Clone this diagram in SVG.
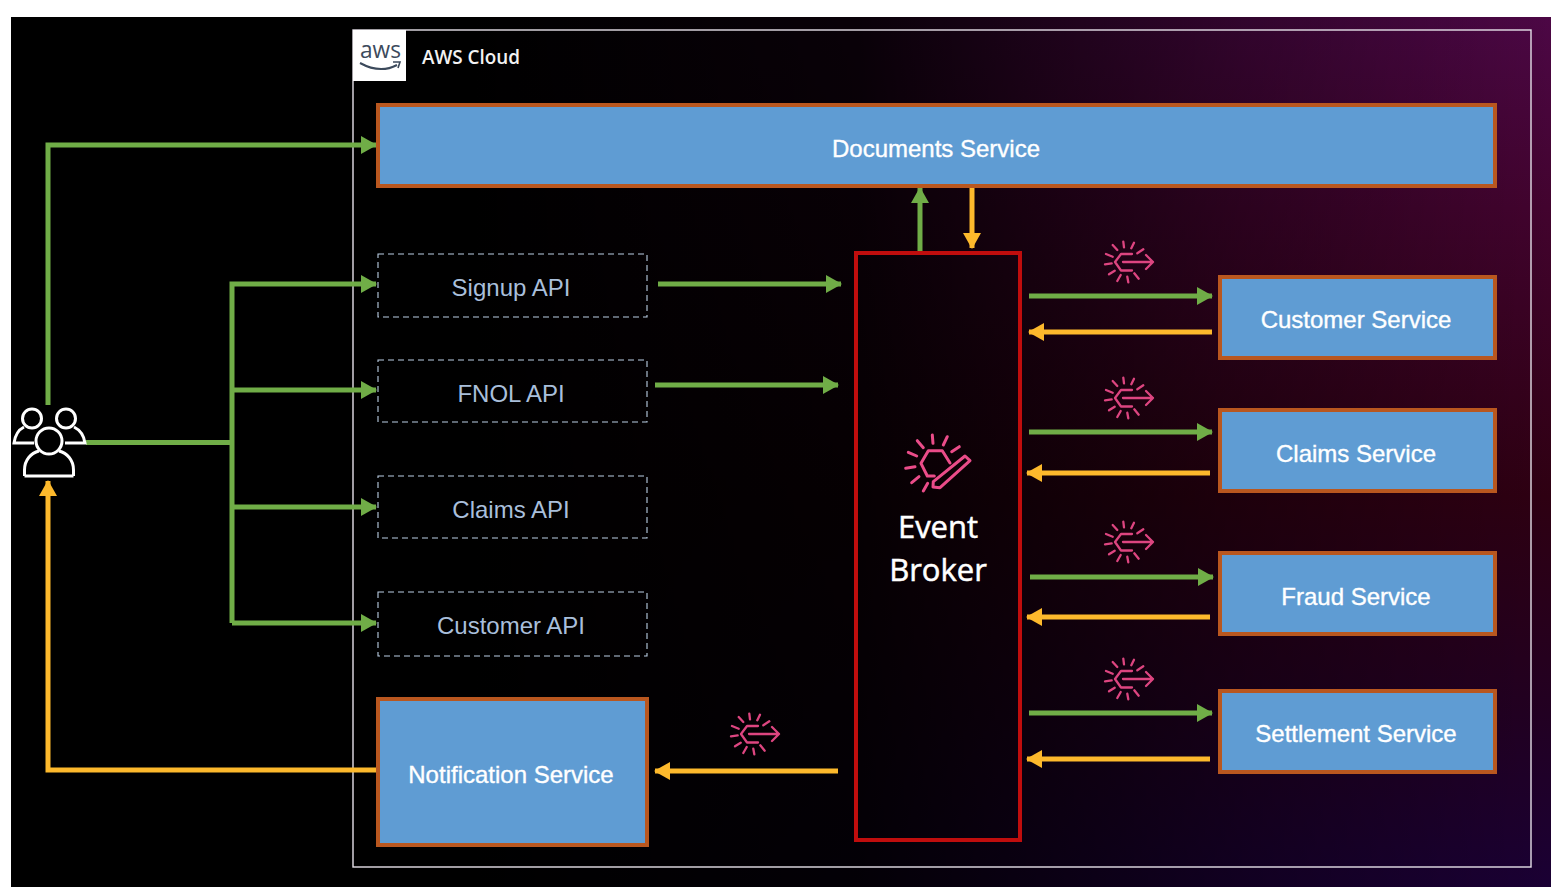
<svg xmlns="http://www.w3.org/2000/svg" xmlns:xlink="http://www.w3.org/1999/xlink" width="1556" height="894" viewBox="0 0 1556 894">
<style>
.sans{font-family:"Liberation Sans",Arial,sans-serif}
.svc{fill:#5f9cd3;stroke:#b9571f;stroke-width:4}
.api{fill:none;stroke:#bcd0e6;stroke-width:1.1;stroke-dasharray:6 4}
.lbl{font-family:"Liberation Sans",Arial,sans-serif;font-size:24px;fill:#fff;stroke:#fff;stroke-width:.35;text-anchor:middle}
.apil{font-family:"Liberation Sans",Arial,sans-serif;font-size:24px;fill:#a9bfdb;text-anchor:middle}
.g{fill:none;stroke:#70ad47;stroke-width:5}
.y{fill:none;stroke:#fdb92c;stroke-width:5}
.ic{fill:none;stroke:#dd4580;stroke-width:2.300;stroke-linecap:round;stroke-linejoin:round}
.br{font-family:"Open Sans","Noto Sans",sans-serif;font-size:31px;fill:#fff;stroke:#fff;stroke-width:.5;text-anchor:middle}
</style>
<defs>
<linearGradient id="v" x1="0" y1="0" x2="0" y2="1"><stop offset="0" stop-color="#4c0745"/><stop offset="0.22" stop-color="#42032e"/><stop offset="0.55" stop-color="#2e0012"/><stop offset="0.8" stop-color="#220022"/><stop offset="1" stop-color="#1a0034"/></linearGradient>
<linearGradient id="h" x1="0" y1="0" x2="1" y2="0"><stop offset="0.3" stop-color="#000"/><stop offset="0.55" stop-color="#000" stop-opacity="0.88"/><stop offset="0.8" stop-color="#000" stop-opacity="0.35"/><stop offset="1" stop-color="#000" stop-opacity="0"/></linearGradient>
<marker id="ag" markerUnits="userSpaceOnUse" markerWidth="16" markerHeight="18" refX="15" refY="9" orient="auto"><path d="M0 0L16 9L0 18Z" fill="#70ad47"/></marker>
<marker id="ay" markerUnits="userSpaceOnUse" markerWidth="16" markerHeight="18" refX="15" refY="9" orient="auto"><path d="M0 0L16 9L0 18Z" fill="#fdb92c"/></marker>
<g id="ev" class="ic">
<path d="M3 -8H-8L-14 0L-8 8.500H3"/>
<path d="M-6 0H24M17 -7L24 0L17 7"/>
<path d="M-5.700 -20.300L-5 -14.700M5 -19.300L2.300 -13.700M14.300 -12.700L8.300 -8.700M-16.300 -17L-11.700 -12M-23 -8L-16.300 -5.300M-24 2.300L-17.300 1.300M-20 12.300L-14.300 8.700M-11.700 19L-8.300 13M-.7 20.300L-1.700 14.700M9.700 16.700L5.300 11.300"/>
</g>
</defs>
<rect width="1556" height="894" fill="#fff"/>
<rect x="11" y="17" width="1540" height="870" fill="url(#v)"/>
<rect x="11" y="17" width="1540" height="870" fill="url(#h)"/>
<rect x="353" y="30" width="1178" height="837" fill="none" stroke="#e6e0e8" stroke-width="1.4"/>
<g id="aws-logo">
<rect x="353" y="30" width="53" height="51" fill="#fff"/>
<text x="360" y="58" font-family="'Open Sans',sans-serif" font-size="24" fill="#3c4a5c" textLength="41" lengthAdjust="spacingAndGlyphs">aws</text>
<path d="M360 63Q380 74 397 65" fill="none" stroke="#3c4a5c" stroke-width="2"/>
<path d="M393 62L400 62L398 68" fill="none" stroke="#3c4a5c" stroke-width="1.600"/>
</g>
<text id="cloud-label" x="422" y="64" font-family="'Open Sans',sans-serif" font-size="20" font-weight="600" fill="#f2f2f2" textLength="98" lengthAdjust="spacingAndGlyphs">AWS Cloud</text>

<g id="connectors">
<path class="g" d="M48 405V145H376" marker-end="url(#ag)"/>
<path class="g" d="M86 442.500H232"/>
<path class="g" d="M232 623V284H376" marker-end="url(#ag)"/>
<path class="g" d="M232 390H376" marker-end="url(#ag)"/>
<path class="g" d="M232 507H376" marker-end="url(#ag)"/>
<path class="g" d="M232 623H376" marker-end="url(#ag)"/>
<path class="g" d="M658 284H841" marker-end="url(#ag)"/>
<path class="g" d="M655 385H838" marker-end="url(#ag)"/>
<path class="g" d="M920 252V188" marker-end="url(#ag)"/>
<path class="y" d="M972 187V248" marker-end="url(#ay)"/>
<path class="g" d="M1029 296H1212" marker-end="url(#ag)"/>
<path class="y" d="M1212 332H1029" marker-end="url(#ay)"/>
<path class="g" d="M1029 432H1212" marker-end="url(#ag)"/>
<path class="y" d="M1210 473H1027" marker-end="url(#ay)"/>
<path class="g" d="M1030 577H1213" marker-end="url(#ag)"/>
<path class="y" d="M1210 617H1027" marker-end="url(#ay)"/>
<path class="g" d="M1029 713H1212" marker-end="url(#ag)"/>
<path class="y" d="M1210 759H1027" marker-end="url(#ay)"/>
<path class="y" d="M838 771H655" marker-end="url(#ay)"/>
<path class="y" d="M378 770H48V481" marker-end="url(#ay)"/>
</g>

<g id="users" fill="none" stroke="#fff" stroke-width="3">
<circle cx="32" cy="418.500" r="9.500"/>
<circle cx="66" cy="418.500" r="9.500"/>
<circle cx="49" cy="441" r="13"/>
<path d="M24 427C18 430 15 436 14 443H34"/>
<path d="M74 427C80 430 84 436 85 443H65"/>
<path d="M24.500 476V470C24.500 460 31 453 39 451M73.500 476V470C73.500 460 67 453 59 451M24.500 476H73.500"/>
</g>

<g id="documents-service"><rect class="svc" x="378" y="105" width="1117" height="81"/><text class="lbl" x="936" y="157">Documents Service</text></g>
<g id="signup-api"><rect class="api" x="378" y="254" width="269" height="63"/><text class="apil" x="511" y="296">Signup API</text></g>
<g id="fnol-api"><rect class="api" x="378" y="360" width="269" height="62"/><text class="apil" x="511" y="402">FNOL API</text></g>
<g id="claims-api"><rect class="api" x="378" y="476" width="269" height="62"/><text class="apil" x="511" y="518">Claims API</text></g>
<g id="customer-api"><rect class="api" x="378" y="592" width="269" height="64"/><text class="apil" x="511" y="634">Customer API</text></g>
<g id="notification-service"><rect class="svc" x="378" y="699" width="269" height="146"/><text class="lbl" x="511" y="783">Notification Service</text></g>
<g id="customer-service"><rect class="svc" x="1220" y="277" width="275" height="81"/><text class="lbl" x="1356" y="328">Customer Service</text></g>
<g id="claims-service"><rect class="svc" x="1220" y="410" width="275" height="81"/><text class="lbl" x="1356" y="462">Claims Service</text></g>
<g id="fraud-service"><rect class="svc" x="1220" y="553" width="275" height="81"/><text class="lbl" x="1356" y="605">Fraud Service</text></g>
<g id="settlement-service"><rect class="svc" x="1220" y="691" width="275" height="81"/><text class="lbl" x="1356" y="742">Settlement Service</text></g>

<g id="event-broker">
<rect x="856" y="253" width="164" height="587" fill="none" stroke="#c00d0d" stroke-width="4"/>
<g fill="none" stroke="#ea4c89" stroke-width="3" stroke-linecap="round" stroke-linejoin="round">
<path d="M950 463L942.300 450.700H928.300L921 463.300L927.300 476H934.300"/>
<path d="M933.300 481.700L965 456L970 460.700L940 487.700L933 487Z"/>
<path d="M932.300 435L933 443.300M947.300 436.700L943.300 445M959.300 446.700L951.700 451.700M917.300 440.700L923.300 447.700M908.300 452.300L916.700 456M905.700 468.300L915 466.700M911.700 482.700L919 476.700M923.300 491L927.700 483.300"/>
</g>
<text class="br" x="938" y="538">Event</text>
<text class="br" x="938" y="581">Broker</text>
</g>

<g id="event-icons">
<use xlink:href="#ev" href="#ev" transform="translate(1129 262)"/>
<use xlink:href="#ev" href="#ev" transform="translate(1129 398)"/>
<use xlink:href="#ev" href="#ev" transform="translate(1129 542)"/>
<use xlink:href="#ev" href="#ev" transform="translate(1129 679)"/>
<use xlink:href="#ev" href="#ev" transform="translate(755 734)"/>
</g>
</svg>
